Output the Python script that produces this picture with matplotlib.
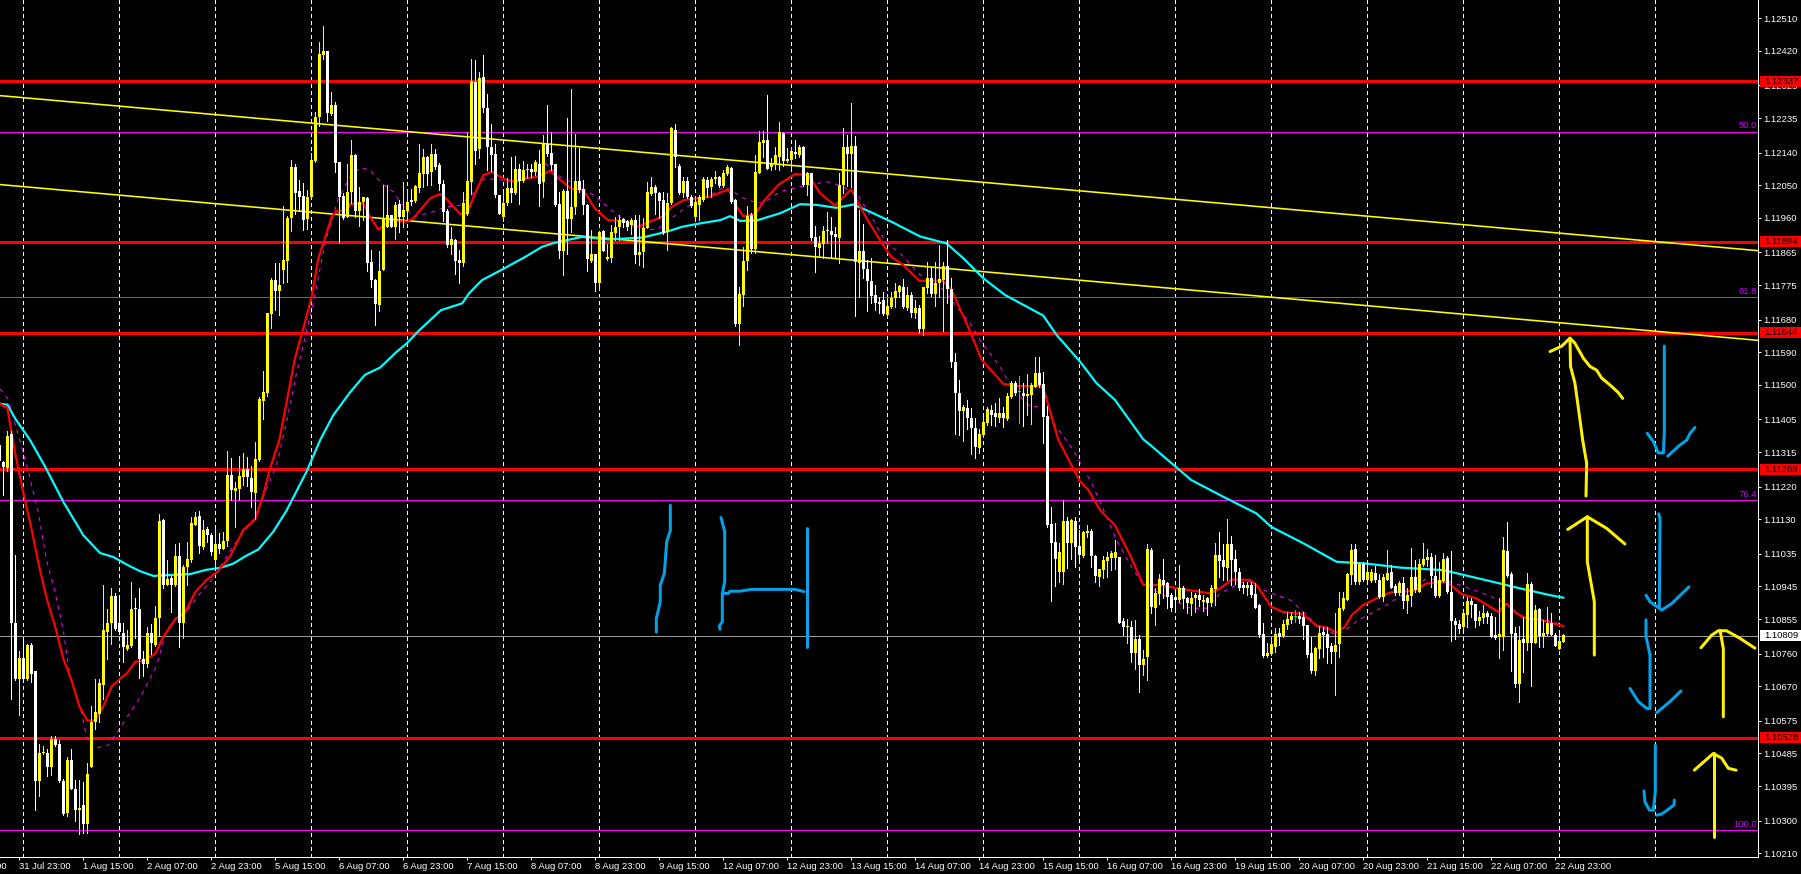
import numpy as np
import matplotlib
matplotlib.use('Agg')
import matplotlib.pyplot as plt
from matplotlib.patches import Rectangle
from matplotlib.transforms import blended_transform_factory

# prices are kept as points above 1.10000, first bar is cut by the left edge
highs = [1344,
 1290,1373,1373,1033,767,804,787,790,712,510,
 505,498,532,532,522,415,476,498,411,411,
 406,459,615,689,689,950,882,940,926,921,
 843,826,958,913,940,767,833,841,892,1144,
 1130,1018,974,1062,1065,1003,1067,1137,1149,1154,
 1127,1110,1091,1106,1091,1096,1317,1298,1232,1305,
 1312,1302,1276,1344,1467,1538,1697,1796,1835,1837,
 1993,1965,2121,2110,2064,2057,2037,2140,2252,2445,
 2488,2420,2308,2280,2113,2028,2110,2176,2136,2046,
 2018,2017,1872,1791,1870,2051,2051,1968,2005,2009,
 2060,2041,2039,2051,2165,2151,2130,2163,2151,2112,
 2064,1986,1936,1901,1872,2032,2197,2399,2395,2363,
 2410,2301,2218,2165,2024,2028,2069,2127,2130,2110,
 2118,2110,2110,2121,2147,2188,2270,2196,2110,2032,
 2041,2234,2314,2191,2154,2064,1998,1927,1862,1922,
 1927,1888,1940,1963,1968,1959,1954,1959,1968,1968,
 1959,2060,2073,2051,2032,2032,2029,2211,2220,2110,
 2072,2072,2023,2020,2023,2072,2072,2072,2090,2076,
 2092,2106,2100,2011,1771,1879,1993,1975,2133,2199,
 2199,2299,2124,2155,2225,2198,2152,2152,2175,2161,
 2158,2088,2085,1938,1909,1938,1977,1964,1934,2085,
 2208,2188,2276,2186,1982,1943,1844,1849,1775,1743,
 1757,1739,1757,1780,1775,1791,1769,1757,1734,1720,
 1771,1840,1826,1840,1886,1840,1899,1794,1587,1514,
 1445,1459,1436,1408,1378,1411,1440,1445,1450,1463,
 1440,1477,1512,1512,1525,1506,1530,1505,1576,1576,
 1537,1442,1165,1119,1064,1183,1135,1130,1135,1100,
 1098,1113,1102,1031,994,1030,1041,1043,1073,1027,
 857,854,851,852,811,770,1062,1050,940,979,
 1022,958,926,930,1004,946,917,930,928,937,
 921,917,949,1065,1095,1062,1130,1084,1045,997,
 958,958,958,955,896,843,790,805,830,830,
 852,875,875,880,875,875,839,807,779,836,
 834,834,788,873,930,930,981,1062,1062,1013,
 1013,1018,992,1000,979,979,1045,1004,953,961,
 972,942,1050,1018,1020,1064,1047,1036,1031,1013,
 1038,1029,1043,857,852,875,917,912,896,878,
 894,878,871,862,912,1080,1122,986,834,836,
 862,981,958,894,885,853,889,871,818,820,
 814]
lows = [1280,
 1196,1263,634,688,592,688,688,683,328,367,
 483,423,425,506,406,316,313,386,299,262,
 265,265,449,553,573,634,746,787,824,814,
 736,770,777,804,692,699,722,760,780,809,
 940,948,874,945,777,804,950,1013,1115,1036,
 1047,1067,1033,994,1037,1047,1057,1183,1110,1183,
 1224,1222,1164,1130,1290,1407,1470,1656,1706,1692,
 1782,1784,1925,1972,1980,1927,1930,2017,2115,2213,
 2399,2228,2243,2087,1892,1956,1963,2000,1963,1938,
 1954,1815,1769,1665,1704,1816,1936,1934,1901,1922,
 1936,1954,1995,2005,2032,2046,2051,2051,2096,2037,
 1952,1881,1860,1807,1782,1827,1968,2026,2110,2124,
 2252,2092,2090,2018,1971,1952,1995,2005,2026,1998,
 2060,2069,2073,2078,1993,2018,2130,2092,1993,1851,
 1803,1862,1922,1972,2032,1972,1815,1839,1760,1761,
 1870,1844,1839,1899,1899,1934,1927,1917,1835,1830,
 1826,1931,2023,1972,1959,1917,1872,1998,2101,2026,
 2019,2014,1991,1953,1954,2008,2019,2019,2057,2046,
 2046,2078,2002,1663,1610,1718,1817,1863,1864,2083,
 2129,2094,2092,2094,2092,2103,2115,2092,2124,2129,
 2048,2023,1899,1812,1852,1849,1890,1849,1849,1835,
 2028,2048,2046,1691,1741,1794,1705,1725,1707,1697,
 1693,1688,1711,1714,1741,1711,1707,1688,1684,1644,
 1638,1752,1745,1718,1743,1650,1725,1549,1365,1362,
 1347,1378,1310,1300,1312,1358,1390,1390,1387,1399,
 1383,1404,1463,1473,1394,1387,1417,1393,1495,1495,
 1341,1110,906,946,958,952,997,1020,999,1018,
 1027,1082,999,958,946,967,972,990,992,845,
 811,788,738,719,655,701,687,871,839,896,
 912,887,878,885,903,887,871,866,875,891,
 878,866,891,894,972,963,964,949,952,935,
 926,921,917,885,807,751,751,756,765,784,
 806,829,843,847,843,799,751,707,701,747,
 751,735,733,646,751,880,908,952,952,953,
 961,963,958,958,912,906,963,940,921,921,
 887,871,891,930,930,1001,1001,944,915,915,
 958,928,796,799,816,829,834,860,834,839,
 843,843,805,799,747,770,972,713,669,627,
 710,770,671,788,777,777,811,810,781,772,
 792]
opens = [1334,
 1288,1271,1366,845,689,748,689,785,711,408,
 485,487,449,526,510,408,320,466,388,328,
 342,291,449,571,595,673,819,843,919,843,
 816,773,780,884,884,746,731,816,783,858,
 1127,950,969,950,1030,843,999,1018,1115,1139,
 1055,1104,1088,1018,1062,1049,1071,1251,1208,1214,
 1247,1269,1244,1203,1292,1457,1477,1695,1789,1759,
 1818,1842,1961,2101,2033,2020,1958,2018,2118,2239,
 2410,2420,2246,2270,2113,2020,1963,2032,2133,1980,
 2005,2015,1838,1789,1721,1816,1936,1968,1936,1998,
 1963,1980,2009,2007,2042,2081,2127,2087,2136,2105,
 2053,1978,1885,1899,1844,1835,1972,2060,2334,2149,
 2347,2264,2156,2136,2024,1963,2002,2042,2028,2095,
 2062,2092,2095,2086,2110,2060,2163,2138,2110,1998,
 1870,2035,1958,1989,2061,2041,1995,1842,1860,1780,
 1923,1846,1849,1919,1934,1956,1952,1940,1954,1858,
 1867,1932,2026,2046,2028,2009,1922,2000,2202,2103,
 2028,2063,2019,1964,1996,2010,2065,2044,2066,2072,
 2048,2081,2098,2009,1668,1749,1841,1967,1874,2085,
 2166,2175,2100,2110,2129,2195,2118,2120,2142,2133,
 2156,2051,2083,1907,1877,1888,1923,1925,1916,1904,
 2051,2156,2136,2158,1837,1868,1819,1786,1747,1729,
 1734,1692,1714,1739,1757,1769,1711,1748,1697,1711,
 1655,1766,1794,1751,1780,1789,1828,1764,1564,1479,
 1427,1436,1408,1381,1326,1361,1394,1431,1424,1408,
 1424,1405,1466,1506,1480,1479,1470,1472,1495,1532,
 1503,1415,1117,1067,985,985,1126,1064,1126,1056,
 1029,1093,1098,1030,972,990,1014,1023,1023,1025,
 851,832,834,761,799,728,750,1045,885,924,
 964,955,921,917,909,942,912,898,912,921,
 903,912,900,937,1031,1018,996,1062,1020,985,
 948,942,950,924,893,814,753,759,779,818,
 808,838,852,862,863,862,838,762,711,772,
 819,814,781,764,786,882,909,976,1047,958,
 1008,964,961,983,963,915,964,985,946,926,
 955,906,919,972,931,1005,1018,1025,975,919,
 961,1023,931,851,841,832,866,906,896,849,
 858,873,863,810,807,807,1043,979,816,676,
 799,790,952,790,882,808,814,843,811,774,
 793]
closes = [1290,
 1273,1360,843,689,748,689,785,705,408,485,
 487,449,526,508,408,318,466,388,328,336,
 291,429,573,600,678,824,843,919,828,819,
 777,785,884,882,744,731,818,789,859,1125,
 950,965,948,1030,845,999,1022,1120,1137,1057,
 1101,1088,1039,1062,1047,1071,1251,1210,1217,1249,
 1269,1246,1205,1297,1461,1480,1697,1789,1760,1775,
 1844,1961,2101,2029,2018,1954,2017,2119,2239,2411,
 2420,2248,2270,2112,2018,1961,2031,2133,1980,2005,
 2017,1837,1789,1723,1815,1959,1967,1936,1995,1963,
 1982,2005,2005,2048,2083,2127,2081,2136,2101,2053,
 1976,1885,1901,1842,1835,2000,2062,2336,2145,2345,
 2264,2156,2133,2024,1972,2000,2042,2028,2095,2062,
 2092,2096,2086,2114,2053,2163,2136,2106,1995,1870,
 2035,1956,1989,2061,2037,1995,1846,1860,1782,1922,
 1870,1853,1921,1936,1954,1947,1936,1954,1858,1867,
 1932,2031,2046,2028,2007,1919,2000,2209,2127,2028,
 2063,2017,1993,2005,2017,2068,2042,2066,2072,2048,
 2083,2100,2005,1668,1751,1841,1965,1874,2086,2170,
 2175,2096,2112,2133,2197,2116,2122,2144,2136,2156,
 2051,2083,1904,1879,1892,1925,1925,1914,1908,2051,
 2156,2136,2158,1839,1868,1819,1787,1745,1727,1723,
 1696,1718,1740,1760,1773,1716,1748,1699,1711,1653,
 1769,1794,1751,1782,1791,1828,1763,1563,1479,1429,
 1439,1408,1381,1328,1365,1398,1433,1417,1413,1424,
 1408,1470,1505,1477,1480,1470,1475,1501,1532,1500,
 1413,1115,1065,1021,1040,1126,1064,1128,1054,1031,
 1096,1098,1029,974,992,1018,1025,1038,1040,845,
 832,834,761,799,728,746,1047,889,928,966,
 949,917,887,908,942,911,900,912,922,908,
 909,900,940,1031,1016,998,1062,1018,985,942,
 941,948,921,887,811,753,762,786,814,807,
 841,854,863,862,856,836,756,711,776,818,
 810,776,764,784,885,913,979,1045,958,1008,
 963,985,985,963,915,970,981,942,928,955,
 906,921,970,935,1008,1020,1025,975,919,964,
 1021,931,851,838,829,871,906,893,849,862,
 873,860,807,803,814,1045,974,814,676,797,
 790,952,790,880,808,818,845,811,781,795,
 811]

# moving averages, read at knots (bar, points)
fast_bars = [-0.8,1,3,5,7,9,11,13,15,17,19,21,23,25,27,29,31,33,35,38,40,43,45.4,48,51,53.7,56.7,60,63,65,66.7,69,
 72.9,75,77.1,78.75,80.4,82.1,83.3,86,86.7,90,91.7,93.75,96.7,100.8,102.5,106.7,109.2,110.9,114.2,115.9,118.3,120,122.1,125.8,128.3,130.8,133.3,136.7,138.75,142,145,147.9,151.2,155,158.75,161.7,165,167.1,170,
 176.7,181.25,183.3,185,188,190,193.75,197.9,201.25,204.2,207.9,212,215.8,219.9,222,224.9,229,234.9,237,240.8,244.6,250,253.3,259.6,
 260.4,263.75,267,269.2,271.25,274.2,277.9,281.7,285,289.2,292.9,298.3,301.7,304.2,307.1,311.7,313.3,317,319.9,324.9,328.3,330.8,333.3,335.4,337.1,340,343.75,346.7,352.5,355.8,360.8,364.6,368.3,373.75,375.8,378.3,380.8,385,387.5,390]
fast_vals = [1448,1436,1310,1203,1106,998,906,833,746,688,615,576,576,615,668,689,707,738,740,760,806,855,872,930,965,987,1028,1101,1130,1198,1271,1348,
 1573,1656,1743,1849,1904,1963,1979,1982,1998,2000,1963,1928,1952,1950,1959,2014,2026,2011,1971,1972,2037,2078,2087,2064,2060,2069,2073,2090,2069,2041,2037,1986,1954,1952,1936,1950,1965,1991,2009,
 2019,2039,1991,1965,1971,2005,2051,2081,2078,2028,1994,2039,1959,1886,1853,1831,1787,1787,1762,1670,1569,1503,1497,1497,
 1477,1349,1280,1234,1211,1155,1114,1031,949,949,941,932,926,940,964,963,949,889,875,869,837,832,818,834,866,894,915,928,933,953,958,924,912,875,898,871,857,852,843,836]
slow_bars = [-0.8,1,3,6.7,10.4,15,20,24.2,27.5,31.25,34.2,37.5,42.5,46.7,50.8,54.2,57.5,60.8,63.75,67.5,70.8,75.8,79.2,82.5,86.7,90.4,94.2,98.3,
 100.8,104,109.4,114.75,116.4,119.7,124.7,130.5,134.75,138,144.7,151.3,159.7,165.8,169.8,174.2,179.2,181.7,184.2,188.3,194.2,199.2,203.3,208.3,212.5,216.7,222.5,229.2,235.8,240,245,250.4,260,263.3,269.2,273.3,277.9,285,286.7,
 297,305,313.3,317,325,333.3,340.8,349.2,360,370,374.2,378.3,386.7,390]
slow_vals = [1448,1446,1407,1348,1276,1178,1086,1037,1026,1003,987,974,977,979,991,996,1008,1030,1047,1096,1154,1261,1348,1417,1480,1528,1548,1591,
 1614,1651,1706,1725,1752,1789,1818,1853,1881,1892,1908,1901,1906,1922,1936,1945,1954,1965,1952,1953,1973,1998,1996,1988,1997,1977,1947,1909,1890,1849,1794,1748,1691,1638,1564,1505,1459,1350,1335,
 1238,1192,1146,1109,1064,1013,1008,997,990,964,953,942,921,914]
dash_bars = [-0.8,1.25,4.2,6.25,8.75,10.8,12.9,15,16.7,19.6,20.8,22.5,26.25,29.2,34.2,38.3,40.8,43.3,45.8,49.2,52.5,57.5,62.5,65.8,68.3,70.8,73.3,
 75.4,77.5,80.4,83.75,86.7,89.2,91.7,94.6,97.5,99.2,102.5,107.5,110.8,114.2,117.5,120.4,125,130,135,139.2,143.3,148.3,152,154.1,157.5,163.3,167.5,170.8,
 176,180.4,186,190,194.2,197.5,205.8,208.3,213.3,217.5,220.8,224.2,229.2,235,238.3,241.7,244.2,249.2,252.5,256.7,259.2,263.3,267.5,272.5,
 278.3,282,285,290.8,296.7,300.8,304.2,310.8,315,321.7,325.4,328.3,333.3,336.7,338.75,345,351.7,355.8,361.7,370,375.8,380,385.8,390]
dash_vals = [1489,1460,1344,1261,1149,1018,930,824,697,595,532,498,508,556,639,726,823,862,877,926,969,1057,1130,1212,1280,1397,1533,
 1630,1725,1890,2014,2073,2099,2092,2055,2032,2005,1963,1977,1991,1995,2028,2069,2064,2064,2115,2073,2051,2018,1982,1963,1936,1927,1963,1990,
 2019,2046,2009,2000,2033,2042,2060,2053,2028,1954,1890,1863,1803,1762,1716,1670,1624,1550,1486,1440,1440,1385,1321,1220,
 1073,1000,949,917,885,885,926,963,935,908,871,839,811,834,852,889,935,967,958,926,898,857,852,839]

trend_bars = [-0.83, 438.67]
upper_trend = [2297, 1870]
lower_trend = [2052, 1623]

red_levels = [1.12337, 1.11894, 1.11644, 1.11268, 1.10528]
fib_levels = [1.12196, 1.11741, 1.11182, 1.10273]
fib_names = ['50.0', '61.8', '76.4', '100.0']
last_price = 1.10809

y_ticks = [1.12510, 1.12420, 1.12325, 1.12235, 1.12140, 1.12050, 1.11960, 1.11865, 1.11775,
           1.11680, 1.11590, 1.11500, 1.11405, 1.11315, 1.11220, 1.11130, 1.11035, 1.10945,
           1.10855, 1.10760, 1.10670, 1.10575, 1.10485, 1.10395, 1.10300, 1.10210]
time_labels = ['31 Jul 23:00', '1 Aug 15:00', '2 Aug 07:00', '2 Aug 23:00', '5 Aug 15:00', '6 Aug 07:00',
               '6 Aug 23:00', '7 Aug 15:00', '8 Aug 07:00', '8 Aug 23:00', '9 Aug 15:00', '12 Aug 07:00',
               '12 Aug 23:00', '13 Aug 15:00', '14 Aug 07:00', '14 Aug 23:00', '15 Aug 15:00', '16 Aug 07:00',
               '16 Aug 23:00', '19 Aug 15:00', '20 Aug 07:00', '20 Aug 23:00', '21 Aug 15:00', '22 Aug 07:00',
               '22 Aug 23:00']

# hand drawn marks on top of the chart (bar, points)
yellow_strokes = [
    ([395.67,395.84,394.84,394,392.9,391.8,391.67], [1194,1284,1348,1417,1505,1551,1629]),
    ([386.67,389.6,391.67,392.9,395,396.67,398.3,399.6,401.67,403.75,404.84], [1592,1607,1629,1615,1574,1551,1541,1519,1500,1479,1463]),
    ([397.75,397.75,397.1,396,396], [756,903,944,1013,1137]),
    ([391.1,396,400.84,405.4], [1102,1137,1105,1062]),
    ([430,430,429.2], [586,774,823]),
    ([424.4,427.1,428.75,430.8,434.2,437.9], [776,811,823,823,802,775]),
    ([427.75,427.75], [256,485]),
    ([422.75,427.5,429.6,431.25,433.2], [439,485,472,444,439]),
]
blue_strokes = [
    ([415.25,415.25,415], [1607,1367,1313]),
    ([411,412.5,413.75,415], [1367,1344,1313,1313]),
    ([416.1,419.2,420.84,421.7,422.9], [1304,1335,1348,1367,1383]),
    ([413.84,414.17,414], [1145,1132,889]),
    ([410.67,411.67,414,414.6,417.1,421.4], [921,903,885,880,898,944]),
    ([410.67,410.67,411.67,411.67], [853,807,756,609]),
    ([406.67,408.75,410.84,411.67], [664,628,609,609]),
    ([413.34,416.67,419.4], [597,628,657]),
    ([413,413,412.5], [508,380,329]),
    ([410.17,410.4,411.5,412.5], [382,352,329,329]),
    ([413.34,414.6,417.67,417.75], [315,318,343,357]),
    ([166.75,166.75,165.84,165.25,164.25,164.25,163.25,163.25], [1169,1099,1068,981,949,903,857,819]),
    ([179.42,180.34,180.34,179.75,179.75,179,179.17], [1135,1096,958,926,848,836,827]),
    ([179.84,181.25,181.67,184.17,187.1,197.92,200.17], [926,926,932,932,937,937,931]),
    ([201,201], [1105,779]),
]


def to_price(points):
    return 1.1 + np.array(points) / 100000.0


px = 0.72  # one pixel in points at dpi 100
label_font = dict(family='Liberation Sans', size=6.8)

fig = plt.figure(figsize=(18.01, 8.74), dpi=100, facecolor='black')
ax = fig.add_axes([0, 17 / 874, 1758 / 1801, 857 / 874], facecolor='black')

bars = np.arange(len(opens)) - 1
o = to_price(opens)
c = to_price(closes)
h = to_price(highs)
l = to_price(lows)

ax.set_xlim(-0.83, 438.67)
ax.set_ylim(1.101998, 1.125604)

for b in range(5, 430, 24):
    ax.axvline(b, color='white', lw=px, linestyle=(0, (3, 3)), zorder=1, antialiased=False)
for level in red_levels:
    ax.axhline(level, color='#ff0000', lw=2.6 * px, zorder=2, antialiased=False)
for level in fib_levels:
    ax.axhline(level, color='#ff00ff', lw=px, zorder=2, antialiased=False)
ax.axhline(last_price, color='#9a9a9a', lw=px, zorder=2, antialiased=False)

ax.plot(trend_bars, to_price(upper_trend), color='#ffff00', lw=1.6 * px, zorder=3)
ax.plot(trend_bars, to_price(lower_trend), color='#ffff00', lw=1.6 * px, zorder=3)

ax.plot(dash_bars, to_price(dash_vals), color='#ff00ff', lw=px, linestyle=(0, (4, 5)), zorder=3)
ax.plot(slow_bars, to_price(slow_vals), color='#00ffff', lw=2.2 * px, zorder=3)
ax.plot(fast_bars, to_price(fast_vals), color='#ff0000', lw=2.2 * px, zorder=3)

colors = np.where(c > o, '#ffff00', np.where(c < o, '#ffffff', '#00ff00'))
ax.vlines(bars, l, h, colors=colors, lw=px, zorder=4, antialiased=False)
body_low = np.minimum(o, c)
body_high = np.maximum(np.abs(c - o), 0.00003)
ax.bar(bars, body_high, bottom=body_low, width=0.85, color=colors, linewidth=0, zorder=5, antialiased=False)

for xs, ys in yellow_strokes:
    ax.plot(xs, to_price(ys), color='#fff200', lw=3 * px, zorder=6, solid_capstyle='round', solid_joinstyle='round')
for xs, ys in blue_strokes:
    ax.plot(xs, to_price(ys), color='#00a2e8', lw=3 * px, zorder=6, solid_capstyle='round', solid_joinstyle='round')

# axes and tick labels
for name in ['top', 'left']:
    ax.spines[name].set_visible(False)
for name in ['right', 'bottom']:
    ax.spines[name].set_color('white')
    ax.spines[name].set_linewidth(px)

ax.yaxis.tick_right()
ax.set_yticks(y_ticks)
ax.set_yticklabels(['%.5f' % t for t in y_ticks], color='white', **label_font)
ax.tick_params(axis='y', colors='white', length=3 * px, width=px, pad=2)
ax.set_xticks(np.arange(4, 389, 16))
ax.set_xticklabels(time_labels, color='white', ha='left', **label_font)
ax.tick_params(axis='x', colors='white', length=3 * px, width=px, pad=1.5)
ax.text(-12, -0.0115, '31 Jul 07:00', color='white', ha='left', va='center', clip_on=False,
        transform=blended_transform_factory(ax.transData, ax.transAxes), **label_font)

# price boxes on the axis
box_trans = blended_transform_factory(ax.transAxes, ax.transData)
for level in red_levels:
    ax.add_patch(Rectangle((1760 / 1758, level - 0.00015), 41 / 1758, 0.0003, transform=box_trans,
                           facecolor='#ff0000', edgecolor='none', clip_on=False, zorder=7))
    ax.text(1764 / 1758, level, '%.5f' % level, color='black', va='center', ha='left',
            transform=box_trans, clip_on=False, zorder=8, **label_font)
ax.add_patch(Rectangle((1760 / 1758, last_price - 0.00015), 41 / 1758, 0.0003, transform=box_trans,
                       facecolor='white', edgecolor='none', clip_on=False, zorder=7))
ax.text(1764 / 1758, last_price, '%.5f' % last_price, color='black', va='center', ha='left',
        transform=box_trans, clip_on=False, zorder=8, **label_font)

for level, name in zip(fib_levels, fib_names):
    ax.text(1757 / 1758, level + 0.00005, name, color='#c800ff', va='bottom', ha='right',
            transform=box_trans, zorder=8, **label_font)

fig.savefig('out.png', dpi=100, facecolor='black')
